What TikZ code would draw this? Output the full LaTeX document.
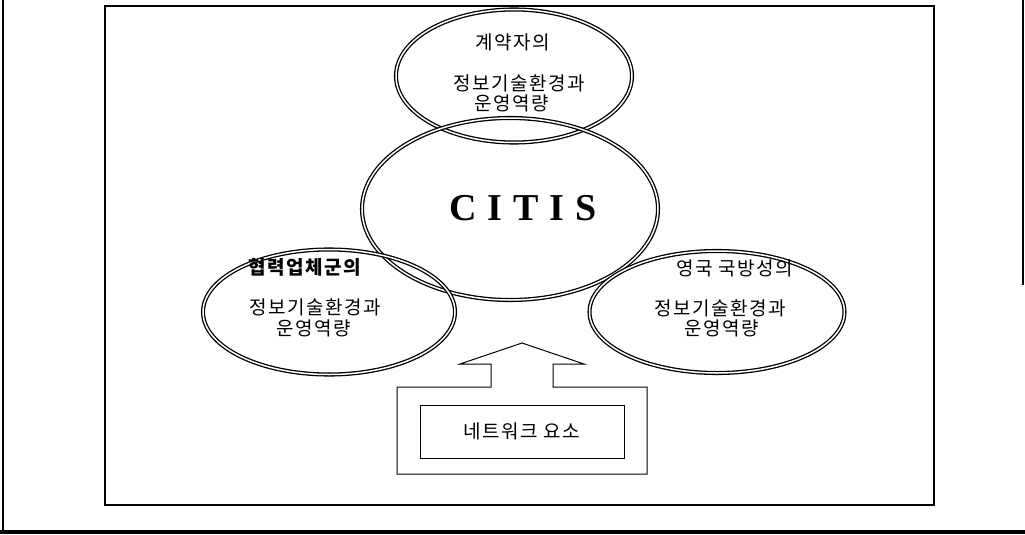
\documentclass[tikz,border=0pt]{standalone}
\usepackage{fontspec}
\setmainfont{Liberation Serif}
\newfontfamily\kr[LetterSpace=8]{Noto Sans CJK KR}
\usetikzlibrary{shapes.geometric}
\begin{document}
\begin{tikzpicture}[x=1pt,y=-1pt,
  ring/.style={ellipse,draw,double,line width=1.3pt,double distance=1.5pt,inner sep=0pt},
  lbl/.style={inner sep=0pt,font=\kr\fontsize{19}{19}\selectfont},
  lblb/.style={lbl,font=\kr\bfseries\fontsize{19}{19}\selectfont},
  frame/.style={draw,line width=1.2pt}]
\useasboundingbox (0,0) rectangle (1025,535);
% scanned page edges
\draw[line width=2pt] (2.5,0) -- (2.5,532);
\draw[line width=3.5pt] (0,532) -- (1025,532);
\draw[line width=1.5pt] (1023,0) -- (1023,285);
% inner frame
\draw[frame] (105,6) rectangle (934,505);
% ellipses
\node[ring,minimum width=236pt,minimum height=133pt] (top) at (514,76) {};
\node[ring,minimum width=296pt,minimum height=182pt] (mid) at (510,209) {};
\node[ring,minimum width=252pt,minimum height=125pt] (left) at (329,312) {};
\node[ring,minimum width=255pt,minimum height=122pt] (right) at (717,312) {};
% texts
\node[lbl] (t1) at (513,42) {계약자의};
\node[lbl] (t2) at (519,83) {정보기술환경과};
\node[lbl] (t3) at (512,103) {운영역량};
\node[inner sep=0pt,font=\bfseries\fontsize{38}{38}\selectfont] (citis) at (523,208)
  {C\hspace{11pt}I\hspace{11pt}T\hspace{11pt}I\hspace{11pt}S};
\node[lblb] (l1) at (305,267) {협력업체군의};
\node[lbl] (l2) at (315,307) {정보기술환경과};
\node[lbl] (l3) at (314,328) {운영역량};
\node[lbl] (r1) at (735,268) {영국 국방성의};
\node[lbl] (r2) at (720,308) {정보기술환경과};
\node[lbl] (r3) at (722,328) {운영역량};
% block arrow
\draw[line width=1pt] (397,387) -- (491,387) -- (491,364) -- (460,364) -- (522,343)
  -- (584,364) -- (553,364) -- (553,387) -- (647,387) -- (647,474) -- (397,474) -- cycle;
\node[draw,line width=1pt,minimum width=204pt,minimum height=53pt,inner sep=0pt] (net) at (522,431.5) {};
\node[lbl] (nt) at (522,431) {네트워크 요소};
\end{tikzpicture}
\end{document}
